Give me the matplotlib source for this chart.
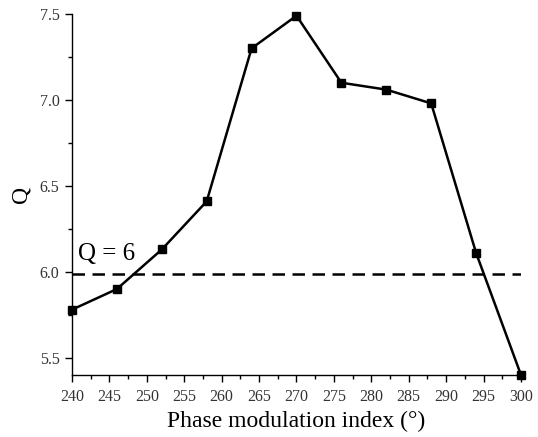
import matplotlib
matplotlib.use("Agg")
import matplotlib.pyplot as plt
from matplotlib.ticker import MultipleLocator

plt.rcParams['font.family'] = ['Liberation Serif', 'DejaVu Serif']

phase = [240, 246, 252, 258, 264, 270, 276, 282, 288, 294, 300]
q_vals = [5.78, 5.90, 6.13, 6.41, 7.30, 7.49, 7.10, 7.06, 6.98, 6.11, 5.40]
threshold = 5.99

fig = plt.figure(figsize=(5.38, 4.37), dpi=100)
ax = fig.add_axes([0.1338, 0.1419, 0.8346, 0.8261])

ax.plot(phase, q_vals, color='black', lw=1.8, marker='s', ms=6.3, clip_on=False, zorder=3)
ax.plot([240, 300], [threshold, threshold], color='black', lw=1.8, ls=(0, (5, 3)))
ax.text(240.8, 6.07, 'Q = 6', fontsize=18)

ax.set_xlim(240, 300)
ax.set_ylim(5.4, 7.5)
ax.xaxis.set_major_locator(MultipleLocator(5))
ax.xaxis.set_minor_locator(MultipleLocator(2.5))
ax.yaxis.set_major_locator(MultipleLocator(0.5))
ax.yaxis.set_minor_locator(MultipleLocator(0.25))
ax.yaxis.set_major_formatter(matplotlib.ticker.FormatStrFormatter('%.1f'))

for s in ['top', 'right']:
    ax.spines[s].set_visible(False)
for s in ['left', 'bottom']:
    ax.spines[s].set_linewidth(1.0)

ax.tick_params(which='major', direction='out', length=5, width=1, labelsize=11.5, colors='black')
ax.tick_params(axis='x', which='major', pad=5, labelcolor='#333333')
ax.tick_params(axis='y', which='major', pad=4, labelcolor='#333333')
ax.tick_params(which='minor', direction='out', length=3, width=1)

ax.set_xlabel('Phase modulation index (°)', fontsize=17, labelpad=4)
ax.set_ylabel('Q', fontsize=17, labelpad=6)

fig.savefig('out.png', dpi=100)
